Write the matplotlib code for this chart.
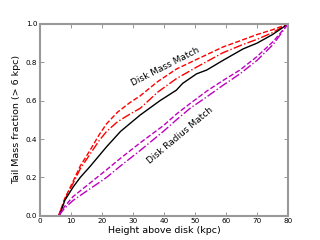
import numpy as np
import matplotlib
matplotlib.use("Agg")
import matplotlib.pyplot as plt

# curves (height in kpc, tail mass fraction)
black_x = [6.3, 8, 10.7, 13, 16.1, 21.5, 26, 32.3, 38.7, 44, 46, 50.5, 53.8, 59, 65.5, 70, 75, 80]
black_y = [0.0, 0.08, 0.15, 0.20, 0.256, 0.36, 0.44, 0.525, 0.60, 0.655, 0.69, 0.74, 0.76, 0.81, 0.87, 0.90, 0.945, 1.0]

mass_dash_x = [6.0, 8, 10.7, 13, 16.1, 19, 21.5, 25, 29, 32.3, 38, 44, 50.5, 59, 65, 70, 75, 80]
mass_dash_y = [0.0, 0.09, 0.18, 0.26, 0.34, 0.42, 0.48, 0.54, 0.59, 0.625, 0.70, 0.765, 0.815, 0.88, 0.915, 0.945, 0.97, 1.0]

mass_dot_x = [6.0, 8, 10.7, 13, 16.1, 19, 21.5, 25, 29, 32.3, 38, 44, 50.5, 59, 65, 70, 75, 80]
mass_dot_y = [0.0, 0.085, 0.17, 0.245, 0.32, 0.39, 0.44, 0.49, 0.53, 0.56, 0.645, 0.715, 0.775, 0.85, 0.89, 0.92, 0.955, 1.0]

rad_dash_x = [6.0, 8, 10.7, 16.1, 21.5, 26, 32.3, 39.8, 44, 48.4, 53.8, 59, 64.5, 70, 75.3, 80]
rad_dash_y = [0.0, 0.05, 0.10, 0.17, 0.24, 0.30, 0.38, 0.47, 0.53, 0.585, 0.65, 0.705, 0.76, 0.83, 0.91, 1.0]

rad_dot_x = [6.0, 8, 10.7, 16.1, 21.5, 26, 32.3, 39.8, 44, 48.4, 53.8, 59, 64.5, 70, 75.3, 80]
rad_dot_y = [0.0, 0.04, 0.08, 0.14, 0.20, 0.26, 0.34, 0.44, 0.50, 0.56, 0.62, 0.68, 0.74, 0.81, 0.895, 1.0]

plt.rcParams['font.family'] = ['DejaVu Sans']

fig = plt.figure(figsize=(3.2, 2.4), dpi=100)
ax = fig.add_axes([40/320, 1 - 215.7/240, 248/320, 191.7/240])

ax.plot(mass_dash_x, mass_dash_y, color='red', ls='--', lw=1.0)
ax.plot(mass_dot_x, mass_dot_y, color='red', ls='-.', lw=1.0)
ax.plot(black_x, black_y, color='black', ls='-', lw=1.0)
ax.plot(rad_dash_x, rad_dash_y, color='m', ls='--', lw=1.0)
ax.plot(rad_dot_x, rad_dot_y, color='m', ls='-.', lw=1.0)

ax.text(40.3, 0.775, 'Disk Mass Match', rotation=27, ha='center', va='center', fontsize=6.5)
ax.text(45.2, 0.42, 'Disk Radius Match', rotation=40, ha='center', va='center', fontsize=6.5)

ax.set_xlim(0, 80)
ax.set_ylim(0, 1)
ax.set_xticks(np.arange(0, 81, 10))
ax.set_yticks(np.arange(0, 1.01, 0.2))
ax.set_yticklabels(['0.0', '0.2', '0.4', '0.6', '0.8', '1.0'])
ax.tick_params(direction='in', top=True, right=True, labelsize=5.2, length=3, width=0.6, color='#888888', pad=2)
for s in ax.spines.values():
    s.set_color('#999999')
    s.set_linewidth(1.5)

ax.set_xlabel('Height above disk (kpc)', fontsize=6.8, labelpad=1)
ax.set_ylabel('Tail Mass fraction (> 6 kpc)', fontsize=6.8, labelpad=3)

fig.savefig('out.png', dpi=100)
